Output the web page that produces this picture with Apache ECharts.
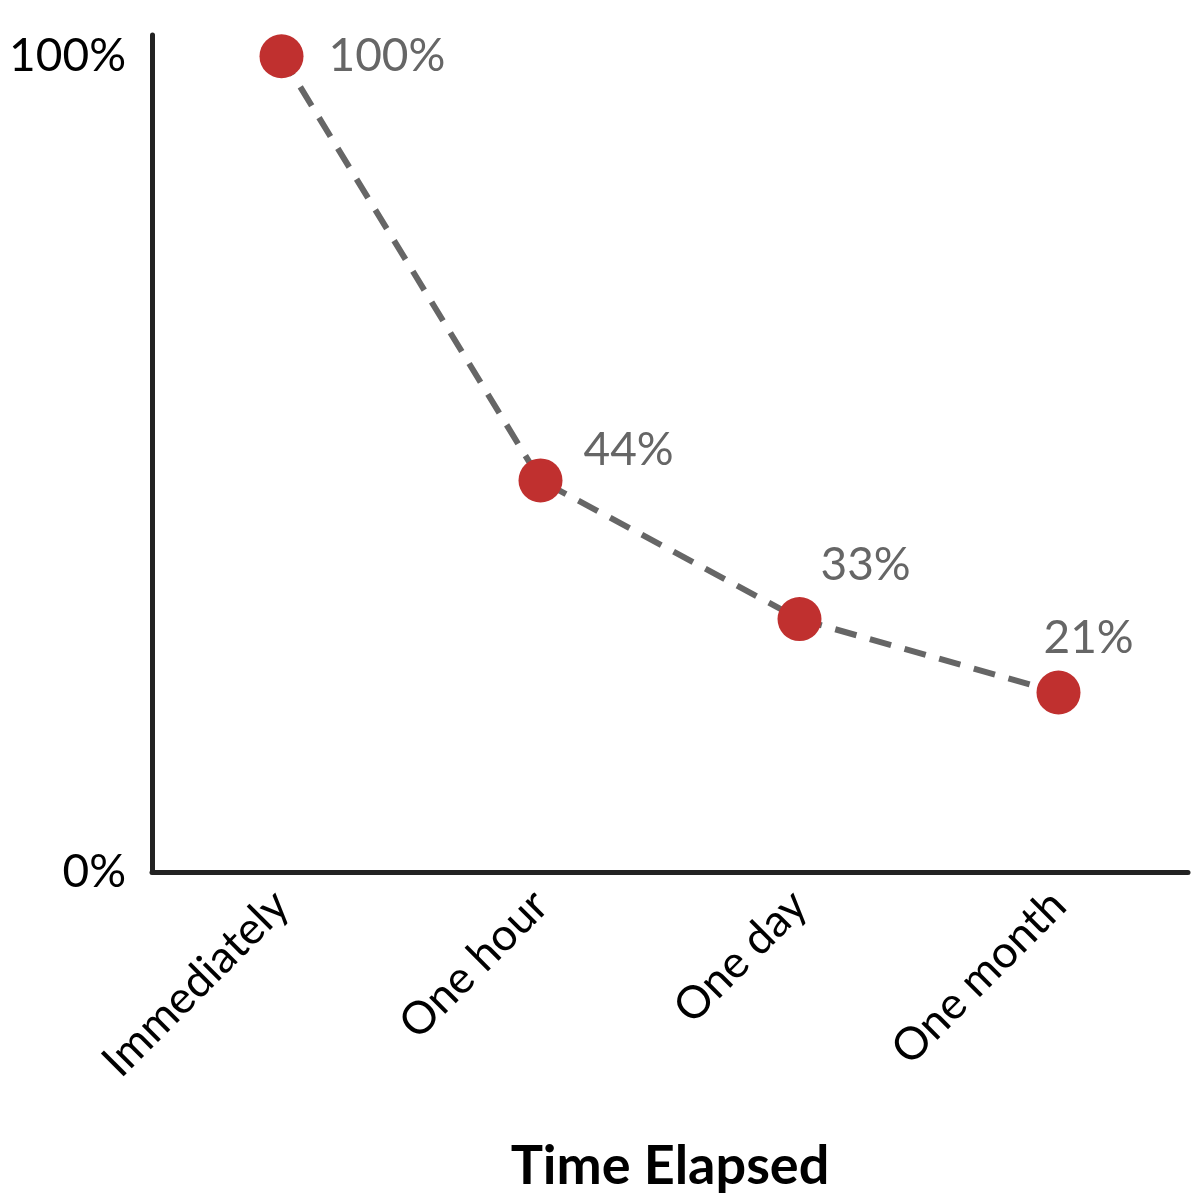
<!DOCTYPE html>
<html>
<head>
<meta charset="utf-8">
<script src="https://cdn.jsdelivr.net/npm/echarts@6/dist/echarts.min.js"></script>
<style>html,body{margin:0;background:#fff}#chart{width:1200px;height:1200px}</style>
</head>
<body>
<div id="chart"></div>
<script>
// categories and values
const categories = ['Immediately', 'One hour', 'One day', 'One month'];
const retention = [100, 48, 31, 22];
const pointLabels = ['100%', '44%', '33%', '21%'];
const labelOffsets = [[20, 0], [16, -30], [-6, -54], [-42, -54]];

const chart = echarts.init(document.getElementById('chart'));
const font = 'Lato, "Open Sans", sans-serif';

chart.setOption({
    animation: false,
    grid: { left: 152, right: 12, top: 35, bottom: 328, containLabel: false, outerBoundsMode: 'none' },
    xAxis: {
        type: 'category',
        data: categories,
        boundaryGap: true,
        axisLine: { lineStyle: { color: '#222', width: 5 } },
        axisTick: { show: false },
        axisLabel: { rotate: 45, color: '#000', fontSize: 45, fontFamily: font, margin: 26 },
        name: 'Time Elapsed',
        nameLocation: 'middle',
        nameGap: 268,
        nameTextStyle: { fontSize: 54, fontWeight: 'bold', color: '#000', fontFamily: font }
    },
    yAxis: {
        type: 'value',
        min: 0,
        max: 102.6,
        interval: 100,
        splitLine: { show: false },
        axisLine: { show: true, lineStyle: { color: '#222', width: 5 } },
        axisTick: { show: false },
        axisLabel: {
            color: '#000', fontSize: 46, fontFamily: font, margin: 26,
            formatter: v => (v === 0 || v === 100) ? v + '%' : ''
        },
        name: 'Retention',
        nameLocation: 'middle',
        nameGap: 52,
        nameTextStyle: { fontSize: 56, fontWeight: 'bold', color: '#000', fontFamily: font }
    },
    series: [{
        type: 'line',
        data: retention.map((v, i) => ({
            value: v,
            label: { formatter: pointLabels[i], offset: labelOffsets[i] }
        })),
        symbol: 'circle',
        symbolSize: 44,
        itemStyle: { color: '#c0302f' },
        lineStyle: { color: '#666', width: 6, type: [22, 14] },
        label: { show: true, position: 'right', color: '#666', fontSize: 46, fontFamily: font }
    }]
});
</script>
</body>
</html>
